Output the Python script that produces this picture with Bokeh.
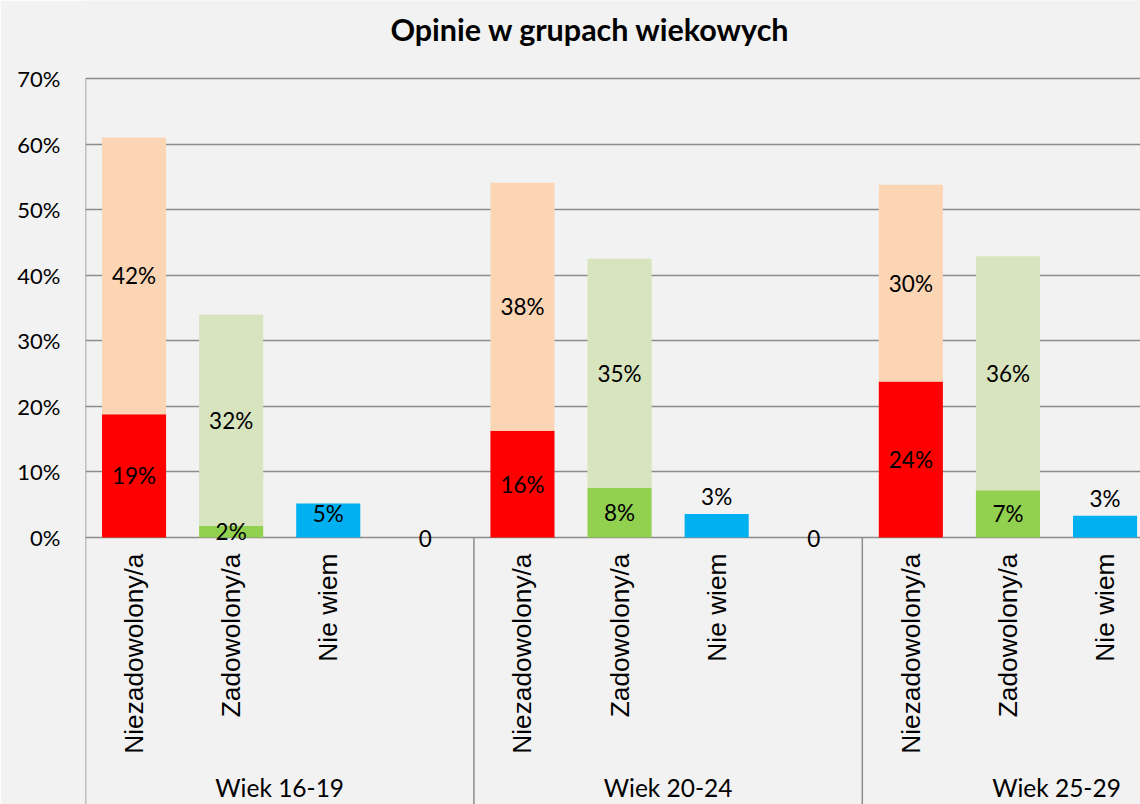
import math
from bokeh.plotting import figure
from bokeh.models import Range1d, FixedTicker, PrintfTickFormatter
from bokeh.core.properties import value
from bokeh.embed import file_html
from bokeh.resources import INLINE

# ---- data ----
title = "Opinie w grupach wiekowych"
groups = ["Wiek 16-19", "Wiek 20-24", "Wiek 25-29"]
categories = ["Niezadowolony/a", "Zadowolony/a", "Nie wiem"]
niezadowolony = [18.8, 16.3, 23.8]              # zdecydowanie niezadowolony
raczej_niezadowolony = [42.2, 37.8, 30.0]       # raczej niezadowolony
zadowolony = [1.8, 7.6, 7.2]                    # zdecydowanie zadowolony
raczej_zadowolony = [32.2, 34.9, 35.7]          # raczej zadowolony
nie_wiem = [5.2, 3.6, 3.3]
y_ticks = [0, 10, 20, 30, 40, 50, 60, 70]

BG = "#F2F2F2"
GRID = "#8C8C8C"
NUM_FONT = "Lato"
CAT_FONT = "Liberation Sans"
Y_BOTTOM = -40.72
Y_TOP = 81.9

p = figure(width=1140, height=804, output_backend="svg", toolbar_location=None,
           x_range=Range1d(-0.5, 10.365), y_range=Range1d(Y_BOTTOM, Y_TOP),
           min_border_left=85, min_border_top=0, min_border_right=0, min_border_bottom=0)
p.background_fill_color = BG
p.border_fill_color = BG
p.outline_line_color = None
p.xaxis.visible = False
p.xgrid.visible = False

p.yaxis.ticker = FixedTicker(ticks=y_ticks)
p.yaxis.formatter = PrintfTickFormatter(format="%d%%")
p.yaxis.major_tick_line_color = None
p.yaxis.minor_tick_line_color = None
p.yaxis.axis_line_color = None
p.yaxis.major_label_text_font = NUM_FONT
p.yaxis.major_label_text_font_size = "22px"
p.yaxis.major_label_text_color = "#000000"
p.yaxis.major_label_standoff = 19
p.ygrid.ticker = FixedTicker(ticks=y_ticks)
p.ygrid.grid_line_color = GRID
p.ygrid.grid_line_width = 1.5

W = 0.66
x_n = [4 * j + 0 for j in range(3)]
x_z = [4 * j + 1 for j in range(3)]
x_w = [4 * j + 2 for j in range(3)]

rn_top = [a + b for a, b in zip(niezadowolony, raczej_niezadowolony)]
rz_top = [a + b for a, b in zip(zadowolony, raczej_zadowolony)]

p.vbar(x=x_n, width=W, bottom=0, top=niezadowolony, fill_color="#FF0000", line_color=None)
p.vbar(x=x_n, width=W, bottom=niezadowolony, top=rn_top, fill_color="#FCD5B5", line_color=None)
p.vbar(x=x_z, width=W, bottom=0, top=zadowolony, fill_color="#92D050", line_color=None)
p.vbar(x=x_z, width=W, bottom=zadowolony, top=rz_top, fill_color="#D7E4BD", line_color=None)
p.vbar(x=x_w, width=W, bottom=0, top=nie_wiem, fill_color="#00B0F0", line_color=None)

# data labels
lx, ly, lt = [], [], []
for j in range(3):
    lx += [x_n[j], x_n[j], x_z[j], x_z[j], x_w[j]]
    ly += [niezadowolony[j] / 2, niezadowolony[j] + raczej_niezadowolony[j] / 2,
           zadowolony[j] / 2, zadowolony[j] + raczej_zadowolony[j] / 2,
           nie_wiem[j] - 1.55 if nie_wiem[j] > 4 else nie_wiem[j] + 2.7]
    lt += ["%d%%" % round(niezadowolony[j]), "%d%%" % round(raczej_niezadowolony[j]),
           "%d%%" % round(zadowolony[j]), "%d%%" % round(raczej_zadowolony[j]),
           "%d%%" % int(nie_wiem[j])]
# empty spacer categories show "0"
for j in range(2):
    lx.append(4 * j + 3)
    ly.append(-0.15)
    lt.append("0")
p.text(x=lx, y=ly, text=lt, text_align="center", text_baseline="middle",
       text_font=value(NUM_FONT), text_font_size="22.5px", text_color="#000000")

# left axis line (from top of value range down through the category area)
p.segment(x0=[-0.5], y0=[y_ticks[-1]], x1=[-0.5], y1=[Y_BOTTOM],
          line_color=GRID, line_width=1.5)
# separators between groups, below the axis
p.segment(x0=[3.5, 7.5], y0=[0, 0], x1=[3.5, 7.5], y1=[Y_BOTTOM, Y_BOTTOM],
          line_color=GRID, line_width=1.5)

# category labels (rotated)
cx, ct = [], []
for j in range(3):
    for k, c in enumerate(categories):
        cx.append(4 * j + k)
        ct.append(c)
p.text(x=cx, y=[-2.44] * len(cx), text=ct, angle=math.pi / 2, text_align="right",
       text_baseline="middle", text_font=value(CAT_FONT), text_font_size="26.3px",
       text_color="#000000")

# group labels
p.text(x=[4 * j + 1.5 for j in range(3)], y=[-38.2] * 3, text=groups,
       text_align="center", text_baseline="middle", text_font=value(NUM_FONT),
       text_font_size="24.5px", text_color="#000000")

# title
p.text(x=[4.70], y=[77.6], text=[title], text_align="center", text_baseline="middle",
       text_font=value(NUM_FONT), text_font_size="30.5px", text_font_style="bold",
       text_color="#000000")

open("out.html", "w").write(file_html(p, INLINE))
